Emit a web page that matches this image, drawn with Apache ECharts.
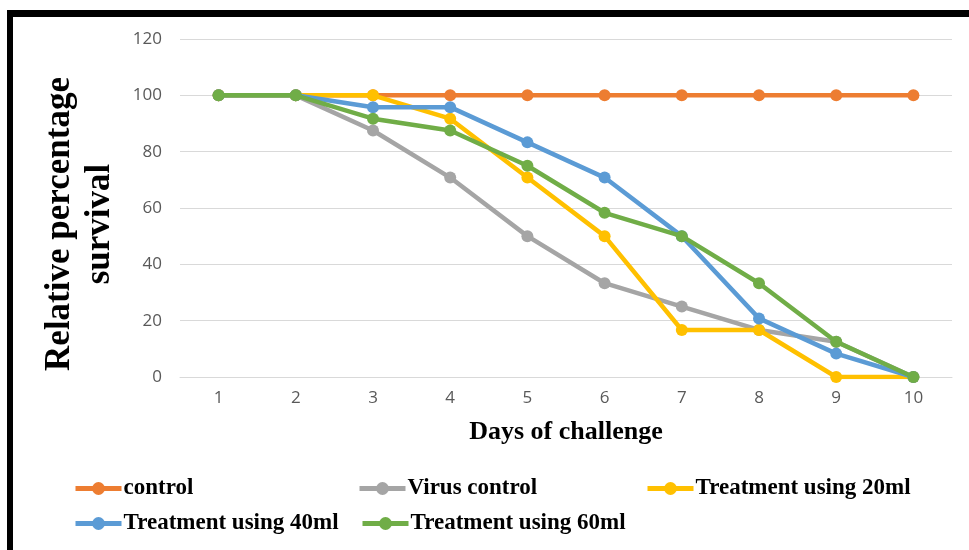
<!DOCTYPE html>
<html><head><meta charset="utf-8">
<script src="https://cdn.jsdelivr.net/npm/echarts@6/dist/echarts.min.js"></script>
<style>html,body{margin:0;padding:0;background:#fff}#c{width:969px;height:550px}</style>
</head><body><div id="c"></div>
<script>
var days = ['1','2','3','4','5','6','7','8','9','10'];
var control = [100,100,100,100,100,100,100,100,100,100];
var virusControl = [100,100,87.5,70.8,50,33.3,25,16.7,12.5,0];
var treat20 = [100,100,100,91.7,70.8,50,16.7,16.7,0,0];
var treat40 = [100,100,95.8,95.8,83.3,70.8,50,20.8,8.3,0];
var treat60 = [100,100,91.7,87.5,75,58.3,50,33.3,12.5,0];
var yTicks = [0,20,40,60,80,100,120];
var yTitle = ['Relative percentage','survival'];
var xTitle = 'Days of challenge';

var names = ['control','Virus control','Treatment using 20ml','Treatment using 40ml','Treatment using 60ml'];
var colors = ['#ED7D31','#A5A5A5','#FFC000','#5B9BD5','#70AD47'];
var datas = [control, virusControl, treat20, treat40, treat60];
var legendPos = [[73,477],[357,477],[645,477],[73,512],[360,512]];

var series = names.map(function(n,i){
  return {name:n,type:'line',data:datas[i],symbol:'circle',symbolSize:12,
    lineStyle:{width:4.5,color:colors[i]},itemStyle:{color:colors[i]},z:2+i};
});
var legends = names.map(function(n,i){
  return {data:[n],left:legendPos[i][0],top:legendPos[i][1],padding:0,itemWidth:46,itemHeight:16,itemGap:4,
    lineStyle:{width:5},
    textStyle:{fontFamily:'Liberation Serif',fontWeight:'bold',fontSize:23,color:'#000',padding:[0,0,0,-3]}};
});

var chart = echarts.init(document.getElementById('c'));
chart.setOption({
  animation:false,
  color:colors,
  grid:{left:180,right:17,top:39,bottom:173,containLabel:false,outerBoundsMode:'none'},
  legend:legends,
  xAxis:{type:'category',data:days,boundaryGap:true,
    axisLine:{show:true,lineStyle:{color:'#d9d9d9',width:1}},axisTick:{show:false},
    axisLabel:{color:'#595959',fontSize:17,fontFamily:'Open Sans',margin:13}},
  yAxis:{type:'value',min:yTicks[0],max:yTicks[yTicks.length-1],interval:20,
    axisLine:{show:false},axisTick:{show:false},
    splitLine:{lineStyle:{color:'#d9d9d9',width:1}},
    axisLabel:{color:'#595959',fontSize:17,fontFamily:'Open Sans',margin:18}},
  graphic:[
    {type:'rect',shape:{x:7,y:10,width:962,height:7},style:{fill:'#000'},silent:true},
    {type:'rect',shape:{x:7,y:10,width:6,height:540},style:{fill:'#000'},silent:true},
    {type:'text',x:60,y:224,rotation:Math.PI/2,silent:true,
      style:{text:yTitle[0],align:'center',verticalAlign:'middle',font:'bold 35px "Liberation Serif"',fill:'#000'}},
    {type:'text',x:100,y:224,rotation:Math.PI/2,silent:true,
      style:{text:yTitle[1],align:'center',verticalAlign:'middle',font:'bold 35px "Liberation Serif"',fill:'#000'}},
    {type:'text',x:566,y:432,silent:true,
      style:{text:xTitle,align:'center',verticalAlign:'middle',font:'bold 26px "Liberation Serif"',fill:'#000'}}
  ],
  series:series
});
</script></body></html>
